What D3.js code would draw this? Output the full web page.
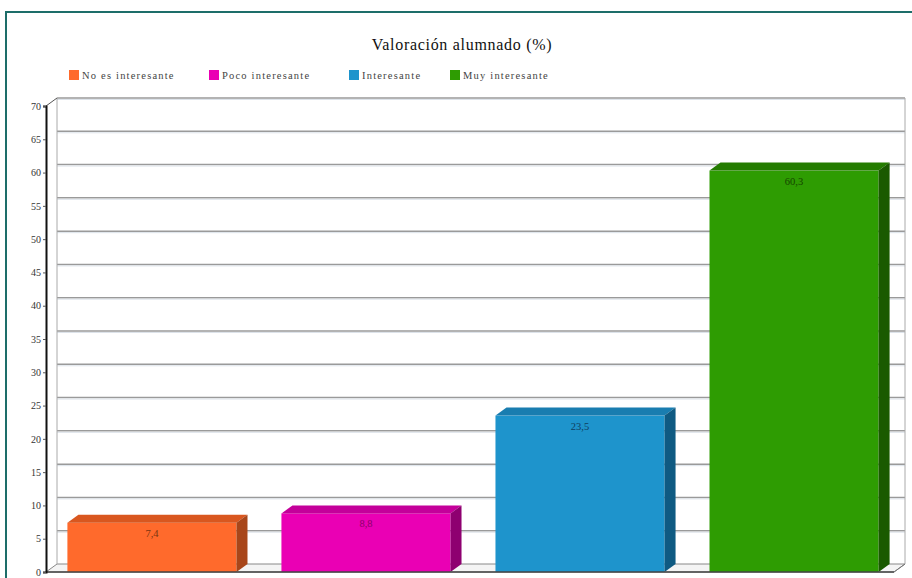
<!DOCTYPE html>
<html>
<head>
<meta charset="utf-8">
<script src="https://cdn.jsdelivr.net/npm/d3@7"></script>
<style>
  body { margin: 0; background: #fff; }
  svg { display: block; font-family: "Liberation Serif", "DejaVu Serif", serif; }
</style>
</head>
<body>
<svg id="chart"></svg>
<script>
// Chart data
const categories = ["No es interesante", "Poco interesante", "Interesante", "Muy interesante"];
const values = [7.4, 8.8, 23.5, 60.3];
const valueLabels = ["7,4", "8,8", "23,5", "60,3"];
const yTicks = [0, 5, 10, 15, 20, 25, 30, 35, 40, 45, 50, 55, 60, 65, 70];

// Face colours for each bar: front, top, side, label
const frontColors = ["#ff6a2c", "#ea00b4", "#1e94cc", "#2e9c02"];
const topColors = ["#d9571f", "#c4009a", "#197db0", "#247c00"];
const sideColors = ["#a8461a", "#8e0070", "#0f5a82", "#1a5a00"];
const labelColors = ["#7a3410", "#8a006a", "#0f3f60", "#154500"];

const width = 912;
const height = 578;

const svg = d3.select("#chart").attr("width", width).attr("height", height);

// Frame
svg.append("rect")
  .attr("x", 6).attr("y", 12)
  .attr("width", 930).attr("height", 620)
  .attr("fill", "#fff")
  .attr("stroke", "#1d6d69")
  .attr("stroke-width", 2);

// Title
svg.append("text")
  .attr("x", 462).attr("y", 50)
  .attr("text-anchor", "middle")
  .attr("font-size", 16)
  .attr("letter-spacing", 0.7)
  .attr("fill", "#111")
  .text("Valoración alumnado (%)");

// Legend
const legendX = [69, 209, 349, 450];
const legend = svg.append("g")
  .selectAll("g")
  .data(categories)
  .enter()
  .append("g")
  .attr("transform", (d, i) => `translate(${legendX[i]},70)`);

legend.append("rect")
  .attr("width", 10).attr("height", 10)
  .attr("fill", (d, i) => frontColors[i]);

legend.append("text")
  .attr("x", 13).attr("y", 9)
  .attr("font-size", 10.5)
  .attr("letter-spacing", 1.2)
  .attr("fill", "#444")
  .text(d => d);

// 3D depth offset
const dx = 11;
const dy = -8;

const left = 46;
const right = 894;

const y = d3.scaleLinear().domain([0, 70]).range([572, 106]);

const x = d3.scaleBand()
  .domain(categories)
  .range([left, right + 6])
  .paddingInner(0.21)
  .paddingOuter(0.1);

// Back wall and floor
const wall = svg.append("g");

wall.append("path")
  .attr("d", `M${left},${y(0)} L${left + dx},${y(0) + dy} L${right + dx},${y(0) + dy} L${right},${y(0)} Z`)
  .attr("fill", "#f4f4f4")
  .attr("stroke", "#888")
  .attr("stroke-width", 1);

// Gridlines on the back wall
wall.selectAll("line.grid")
  .data(yTicks.filter(t => t > 0))
  .enter()
  .append("line")
  .attr("class", "grid")
  .attr("x1", left + dx).attr("x2", right + dx)
  .attr("y1", d => y(d) + dy).attr("y2", d => y(d) + dy)
  .attr("stroke", "#9a9a9a")
  .attr("stroke-width", 1.5);

wall.selectAll("line.gridlight")
  .data(yTicks.filter(t => t > 0))
  .enter()
  .append("line")
  .attr("class", "gridlight")
  .attr("x1", left + dx).attr("x2", right + dx)
  .attr("y1", d => y(d) + dy + 1.5).attr("y2", d => y(d) + dy + 1.5)
  .attr("stroke", "#dde3ea")
  .attr("stroke-width", 1);

// Back wall left and right edges
wall.append("line")
  .attr("x1", left + dx).attr("x2", left + dx)
  .attr("y1", y(70) + dy).attr("y2", y(0) + dy)
  .attr("stroke", "#aaa");

wall.append("line")
  .attr("x1", right + dx).attr("x2", right + dx)
  .attr("y1", y(70) + dy).attr("y2", y(0) + dy)
  .attr("stroke", "#aaa");

// Slanted connectors at top and bottom of the axis
wall.append("line")
  .attr("x1", left).attr("y1", y(70))
  .attr("x2", left + dx).attr("y2", y(70) + dy)
  .attr("stroke", "#555");

wall.append("line")
  .attr("x1", right).attr("y1", y(0))
  .attr("x2", right + dx).attr("y2", y(0) + dy)
  .attr("stroke", "#777");

// Bars
const bars = svg.append("g")
  .selectAll("g")
  .data(values)
  .enter()
  .append("g");

// Front face
bars.append("rect")
  .attr("x", (d, i) => x(categories[i]))
  .attr("y", d => y(d))
  .attr("width", x.bandwidth())
  .attr("height", d => y(0) - y(d))
  .attr("fill", (d, i) => frontColors[i]);

// Top face
bars.append("path")
  .attr("d", (d, i) => {
    const x0 = x(categories[i]);
    const x1 = x0 + x.bandwidth();
    const yt = y(d);
    return `M${x0},${yt} L${x0 + dx},${yt + dy} L${x1 + dx},${yt + dy} L${x1},${yt} Z`;
  })
  .attr("fill", (d, i) => topColors[i]);

// Side face
bars.append("path")
  .attr("d", (d, i) => {
    const x1 = x(categories[i]) + x.bandwidth();
    const yt = y(d);
    const yb = y(0);
    return `M${x1},${yt} L${x1 + dx},${yt + dy} L${x1 + dx},${yb + dy} L${x1},${yb} Z`;
  })
  .attr("fill", (d, i) => sideColors[i]);

// Value labels
bars.append("text")
  .attr("x", (d, i) => x(categories[i]) + x.bandwidth() / 2)
  .attr("y", d => y(d) + 14)
  .attr("text-anchor", "middle")
  .attr("font-size", 10.5)
  .attr("fill", (d, i) => labelColors[i])
  .text((d, i) => valueLabels[i]);

// Floor front edge
svg.append("line")
  .attr("x1", left).attr("x2", right)
  .attr("y1", y(0)).attr("y2", y(0))
  .attr("stroke", "#444")
  .attr("stroke-width", 1.5);

// Y axis
const yAxis = d3.axisLeft(y)
  .tickValues(yTicks)
  .tickSize(3)
  .tickPadding(2);

const axisG = svg.append("g")
  .attr("transform", `translate(${left},0)`)
  .call(yAxis);

axisG.select(".domain")
  .attr("stroke", "#111")
  .attr("stroke-width", 2);

axisG.selectAll(".tick line").attr("stroke", "#555");
axisG.selectAll(".tick text")
  .attr("font-family", "Liberation Serif, DejaVu Serif, serif")
  .attr("font-size", 10)
  .attr("fill", "#333");
</script>
</body>
</html>
